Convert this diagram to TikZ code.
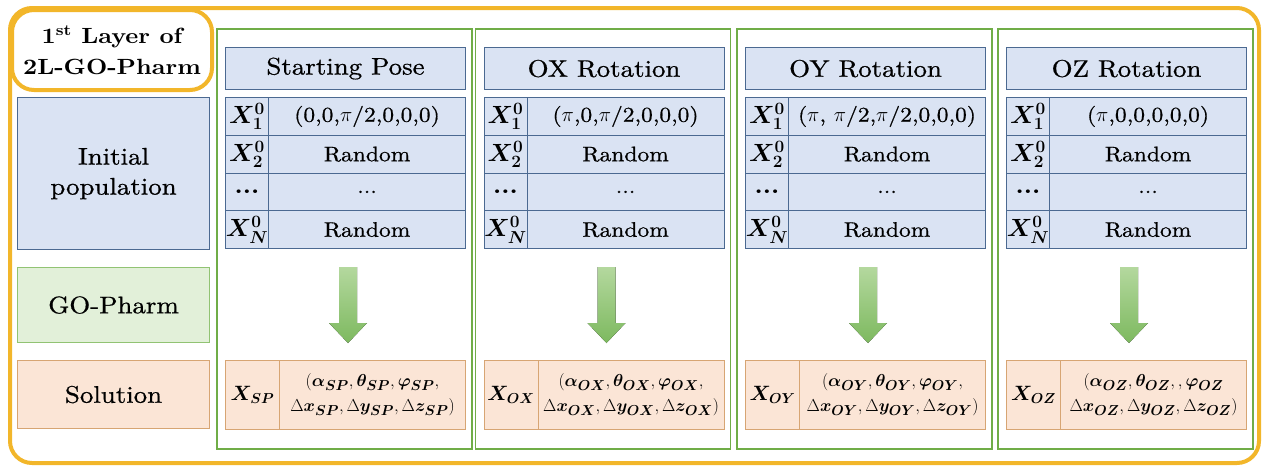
\documentclass[tikz,border=0pt]{standalone}
\usepackage{amsmath}
\usepackage{bm}
\usepackage{fontspec}
\setmainfont{lmroman10}[Extension=.otf, UprightFont=*-regular, BoldFont=*-bold, ItalicFont=*-italic, BoldItalicFont=*-bolditalic, FakeStretch=1.12, UprightFeatures={FakeBold=0.7}]
\definecolor{orng}{RGB}{242,182,42}
\definecolor{frgreen}{RGB}{112,173,71}
\definecolor{bfill}{RGB}{218,227,243}
\definecolor{bline}{RGB}{75,105,145}
\definecolor{gfill}{RGB}{226,240,217}
\definecolor{gline}{RGB}{145,195,115}
\definecolor{ofill}{RGB}{251,229,214}
\definecolor{oline}{RGB}{215,165,115}
\definecolor{arrtop}{RGB}{180,216,158}
\definecolor{arrbot}{RGB}{125,185,95}
\tikzset{
  cellbase/.style={line width=1.1pt, inner sep=0pt, anchor=north west, align=center},
  bluebox/.style={cellbase, draw=bline, fill=bfill},
  greenbox/.style={cellbase, draw=gline, fill=gfill},
  orbox/.style={cellbase, draw=oline, fill=ofill},
  colframe/.style={draw=frgreen, line width=1.6pt, inner sep=0pt, anchor=north west},
  bigtxt/.style={font=\fontsize{24}{30}\selectfont},
  tbltxt/.style={font=\fontsize{21}{25}\selectfont},
  lbltxt/.style={font=\fontsize{23}{25}\selectfont},
  soltxt/.style={font=\fontsize{19}{25}\selectfont},
  arrowfill/.style={top color=arrtop, bottom color=arrbot, draw=none},
}
% #1 left x, #2 id, #3 header, #4 first value, #5 subscript, #6 first line of solution
\newcommand{\pcolumn}[6]{%
  \node[colframe, minimum width=255pt, minimum height=420pt] (fr#2) at (#1,28) {};
  \node[bluebox, bigtxt, minimum width=240pt, minimum height=42pt] (hd#2) at ({#1+9},47) {#3};
  \node[bluebox, lbltxt, minimum width=43pt, minimum height=37.75pt] (a#2r1) at ({#1+9},97) {$\bm{X_1^0}$};
  \node[bluebox, tbltxt, minimum width=197pt, minimum height=37.75pt] (b#2r1) at ({#1+52},97) {#4};
  \node[bluebox, lbltxt, minimum width=43pt, minimum height=37.75pt] (a#2r2) at ({#1+9},134.75) {$\bm{X_2^0}$};
  \node[bluebox, tbltxt, minimum width=197pt, minimum height=37.75pt] (b#2r2) at ({#1+52},134.75) {Random};
  \node[bluebox, lbltxt, minimum width=43pt, minimum height=37.75pt] (a#2r3) at ({#1+9},172.5) {\textbf{...}};
  \node[bluebox, tbltxt, minimum width=197pt, minimum height=37.75pt] (b#2r3) at ({#1+52},172.5) {...};
  \node[bluebox, lbltxt, minimum width=43pt, minimum height=37.75pt] (a#2r4) at ({#1+9},210.25) {$\bm{X_N^0}$};
  \node[bluebox, tbltxt, minimum width=197pt, minimum height=37.75pt] (b#2r4) at ({#1+52},210.25) {Random};
  \fill[arrowfill] ({#1+123},267) -- ({#1+141},267) -- ({#1+141},323) -- ({#1+151},323)
     -- ({#1+132},343) -- ({#1+113},323) -- ({#1+123},323) -- cycle;
  \node[orbox, font=\fontsize{22.5}{26}\selectfont, minimum width=54pt, minimum height=69pt] (sx#2) at ({#1+9},360) {$\bm{X_{#5}}$};
  \node[orbox, soltxt, minimum width=186pt, minimum height=69pt] (sv#2) at ({#1+63},360)
     {#6\\$\Delta\bm{x_{#5}}, \Delta\bm{y_{#5}}, \Delta\bm{z_{#5}})$};
}
\begin{document}
\begin{tikzpicture}[x=1pt,y=-1pt]
\useasboundingbox (0,0) rectangle (1269,467);
\draw[orng, line width=4pt, rounded corners=22pt] (10,8) rectangle (1259,463);
\node[draw=orng, line width=4pt, rounded corners=22pt, fill=white, inner sep=0pt,
  minimum width=200pt, minimum height=80pt, anchor=north west, align=center,
  font=\bfseries\fontsize{22}{31}\selectfont] (title) at (10,8) {1\textsuperscript{st} Layer of\\2L-GO-Pharm};
\node[bluebox, bigtxt, minimum width=192pt, minimum height=152pt] (init) at (17,97) {Initial\\population};
\node[greenbox, bigtxt, minimum width=192pt, minimum height=75pt] (gop) at (17,267) {GO-Pharm};
\node[orbox, bigtxt, minimum width=192pt, minimum height=68pt] (sol) at (17,360) {Solution};
\pcolumn{216}{1}{Starting Pose}{(0,0,$\pi$/2,0,0,0)}{SP}{$(\bm{\alpha_{SP}}, \bm{\theta_{SP}}, \bm{\varphi_{SP}},$}
\pcolumn{474.5}{2}{OX Rotation}{($\pi$,0,$\pi$/2,0,0,0)}{OX}{$(\bm{\alpha_{OX}}, \bm{\theta_{OX}}, \bm{\varphi_{OX}},$}
\pcolumn{736}{3}{OY Rotation}{($\pi$, $\pi$/2,$\pi$/2,0,0,0)}{OY}{$(\bm{\alpha_{OY}}, \bm{\theta_{OY}}, \bm{\varphi_{OY}},$}
\pcolumn{997}{4}{OZ Rotation}{($\pi$,0,0,0,0,0)}{OZ}{$(\bm{\alpha_{OZ}}, \bm{\theta_{OZ}}, , \bm{\varphi_{OZ}}$}
\end{tikzpicture}
\end{document}
